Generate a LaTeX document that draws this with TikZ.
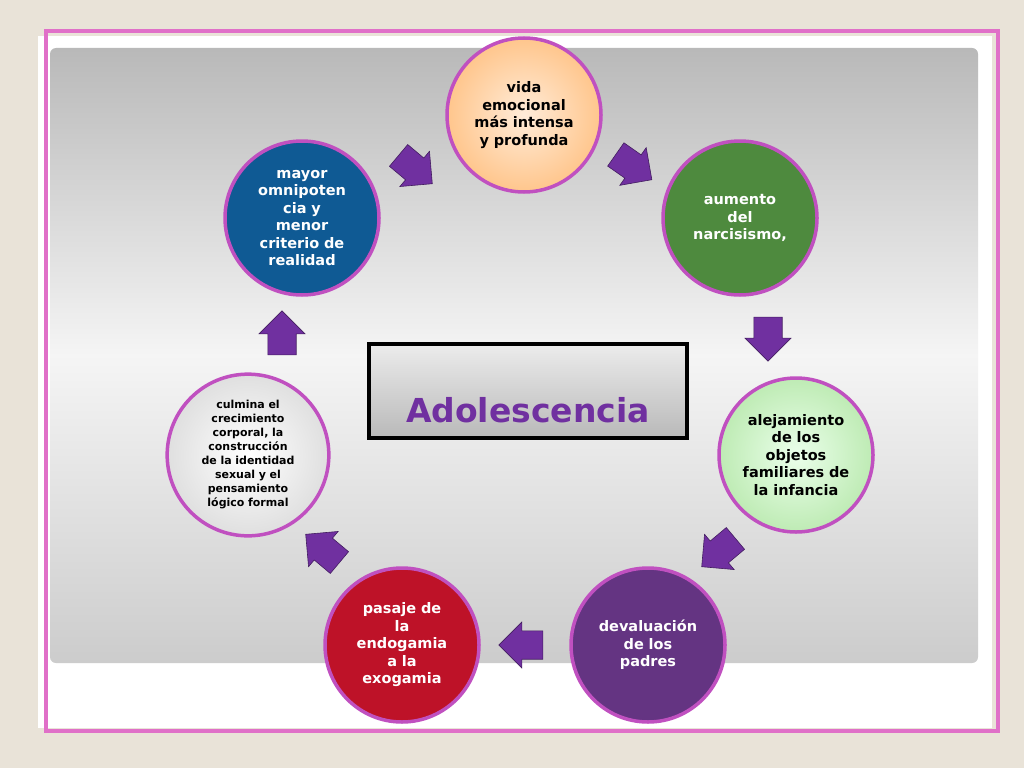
\documentclass[tikz,border=0pt]{standalone}
\usepackage{fontspec}
\setmainfont{DejaVu Sans}
\usetikzlibrary{shapes.arrows,shadows}
\definecolor{bg}{HTML}{E9E3D8}
\definecolor{pinkb}{HTML}{E070C8}
\definecolor{ring}{HTML}{C050C0}
\definecolor{arrowc}{HTML}{7030A0}
\tikzset{
 circ/.style={circle,minimum size=154pt,inner sep=0pt,draw=ring,line width=3.5pt,align=center,font=\bfseries\fontsize{14.5}{17.5}\selectfont,text width=120pt},
 blk/.style={single arrow,fill=arrowc,draw=arrowc!60!black,line width=0.6pt,minimum width=46pt,minimum height=44pt,single arrow head extend=7pt,inner sep=11pt}
}
\begin{document}
\begin{tikzpicture}[x=1pt,y=-1pt]
\fill[bg] (0,0) rectangle (1024,768);
\useasboundingbox (0,0) rectangle (1024,768);
\fill[white] (38,36) rectangle (992,728);
\draw[pinkb,line width=4pt] (46,31) rectangle (998,731);
\shade[top color=gray!55,bottom color=gray!40,middle color=gray!8,rounded corners=6pt] (50,48) rectangle (978,663);
\node[circ,shading=radial,inner color=orange!15,outer color=orange!45,text=black] (c1) at (524,115) {vida\\emocional\\más intensa\\y profunda\\[30pt]};
\node[circ,fill={rgb,255:red,78;green,138;blue,62},text=white] (c2) at (740,218) {aumento\\del\\narcisismo,\\[10pt]};
\node[circ,shading=radial,inner color=green!8,outer color={rgb,255:red,190;green,235;blue,180},text=black] (c3) at (796,455) {alejamiento\\de los\\objetos\\familiares de\\la infancia};
\node[circ,fill={rgb,255:red,100;green,52;blue,130},text=white] (c4) at (648,645) {devaluación\\de los\\padres\\[14pt]};
\node[circ,fill={rgb,255:red,190;green,18;blue,40},text=white] (c5) at (402,645) {pasaje de\\la\\endogamia\\a la\\exogamia\\[10pt]};
\node[circ,shading=radial,inner color=white,outer color=gray!25,text=black,font=\bfseries\fontsize{11}{14}\selectfont] (c6) at (248,455) {culmina el\\crecimiento\\corporal, la\\construcción\\de la identidad\\sexual y el\\pensamiento\\lógico formal};
\node[circ,fill={rgb,255:red,15;green,90;blue,148},text=white] (c7) at (302,218) {mayor\\omnipoten\\cia y\\menor\\criterio de\\realidad};
\node[draw=black,line width=4pt,minimum width=318pt,minimum height=94pt,top color=gray!15,bottom color=gray!55] (ad) at (528,391) {};
\node[font=\bfseries\fontsize{33}{36}\selectfont,text=arrowc] (adt) at (528,410) {Adolescencia};
\node[blk,rotate=-40] (a1) at (410,165) {};
\node[blk,rotate=-35] (a2) at (628,163) {};
\node[blk,rotate=-90] (a3) at (768,332) {};
\node[blk,rotate=-140] (a4) at (724,548) {};
\node[blk,rotate=180] (a5) at (528,645) {};
\node[blk,rotate=140] (a6) at (328,553) {};
\node[blk,rotate=90] (a7) at (282,340) {};
\end{tikzpicture}
\end{document}
